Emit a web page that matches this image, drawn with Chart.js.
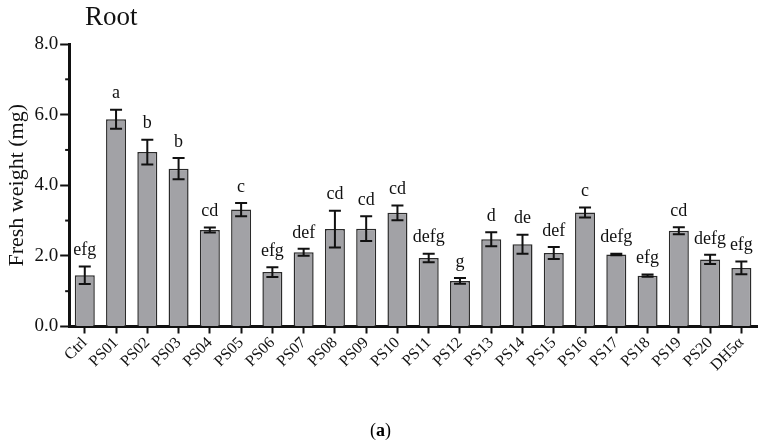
<!DOCTYPE html>
<html>
<head>
<meta charset="utf-8">
<script src="https://cdn.jsdelivr.net/npm/chart.js@4"></script>
<style>
  html, body { margin: 0; padding: 0; background: #fff; }
  #wrap { position: relative; width: 761px; height: 444px; }
  #caption {
    position: absolute; left: 0; width: 761px; top: 420px; text-align: center;
    font-family: "Liberation Serif", "DejaVu Serif", serif; font-size: 18px; color: #000;
  }
</style>
</head>
<body>
<div id="wrap">
  <canvas id="rootChart" width="761" height="444"></canvas>
  <div id="caption">(<b>a</b>)</div>
</div>
<script>
// strain names, mean fresh weight, error and significance letters
const strains = ["Ctrl", "PS01", "PS02", "PS03", "PS04", "PS05", "PS06", "PS07", "PS08", "PS09", "PS10",
  "PS11", "PS12", "PS13", "PS14", "PS15", "PS16", "PS17", "PS18", "PS19", "PS20", "DH5\u03b1"];
const weights = [1.45, 5.87, 4.94, 4.47, 2.73, 3.31, 1.54, 2.10, 2.76, 2.77, 3.22,
  1.94, 1.29, 2.47, 2.33, 2.08, 3.23, 2.04, 1.44, 2.71, 1.90, 1.66];
const errors = [0.25, 0.27, 0.35, 0.30, 0.07, 0.19, 0.14, 0.10, 0.52, 0.35, 0.21,
  0.12, 0.08, 0.20, 0.27, 0.17, 0.14, 0.02, 0.03, 0.10, 0.13, 0.18];
const letters = ["efg", "a", "b", "b", "cd", "c", "efg", "def", "cd", "cd", "cd",
  "defg", "g", "d", "de", "def", "c", "defg", "efg", "cd", "defg", "efg"];
const yTicks = [0, 2, 4, 6, 8];

const serif = "'Liberation Serif', 'DejaVu Serif', serif";

// error bars, letters, minor ticks and title
const extras = {
  id: "extras",
  afterDatasetsDraw(chart) {
    const ctx = chart.ctx;
    const x = chart.scales.x, y = chart.scales.y;
    ctx.save();
    ctx.strokeStyle = "#111";
    ctx.lineWidth = 2;
    weights.forEach((v, i) => {
      const cx = x.getPixelForValue(i);
      const top = y.getPixelForValue(v + errors[i]);
      const bot = y.getPixelForValue(v - errors[i]);
      ctx.beginPath();
      ctx.moveTo(cx, top); ctx.lineTo(cx, bot);
      ctx.moveTo(cx - 6, top); ctx.lineTo(cx + 6, top);
      ctx.moveTo(cx - 6, bot); ctx.lineTo(cx + 6, bot);
      ctx.stroke();
      ctx.fillStyle = "#111";
      ctx.font = "18px " + serif;
      ctx.textAlign = "center";
      ctx.textBaseline = "bottom";
      ctx.fillText(letters[i], cx, top - 7);
    });
    // minor ticks on y axis
    ctx.lineWidth = 2;
    [1, 3, 5, 7].forEach(v => {
      const py = y.getPixelForValue(v);
      ctx.beginPath();
      ctx.moveTo(y.right - 4, py); ctx.lineTo(y.right, py);
      ctx.stroke();
    });
    ctx.font = "27px " + serif;
    ctx.textAlign = "left";
    ctx.textBaseline = "alphabetic";
    ctx.fillText("Root", 85, 25);
    ctx.restore();
  }
};

new Chart(document.getElementById("rootChart"), {
  type: "bar",
  data: {
    labels: strains,
    datasets: [{
      data: weights,
      backgroundColor: "#a2a2a6",
      borderColor: "#2a2a2a",
      borderWidth: 1.5,
      categoryPercentage: 1,
      barPercentage: 0.64
    }]
  },
  options: {
    responsive: false,
    animation: false,
    layout: { padding: { top: 44, right: 4, bottom: 69, left: 2 } },
    plugins: { legend: { display: false }, tooltip: { enabled: false } },
    scales: {
      x: {
        border: { color: "#111", width: 3 },
        grid: { drawOnChartArea: false, tickLength: 7, tickWidth: 2, tickColor: "#111", offset: false },
        ticks: { color: "#111", font: { family: serif, size: 16 }, minRotation: 45, maxRotation: 45,
          autoSkip: false, padding: 0 }
      },
      y: {
        min: 0, max: 8,
        border: { color: "#111", width: 3 },
        grid: { drawOnChartArea: false, tickLength: 9, tickWidth: 2,
          tickColor: c => (yTicks.includes(c.tick.value) ? "#111" : "rgba(0,0,0,0)") },
        ticks: {
          stepSize: 1, color: "#111", font: { family: serif, size: 19 }, padding: 2,
          callback: v => (yTicks.includes(v) ? v.toFixed(1) : "")
        },
        title: { display: true, text: "Fresh weight (mg)", color: "#111", font: { family: serif, size: 22 }, padding: 2 }
      }
    }
  },
  plugins: [extras]
});
</script>
</body>
</html>
